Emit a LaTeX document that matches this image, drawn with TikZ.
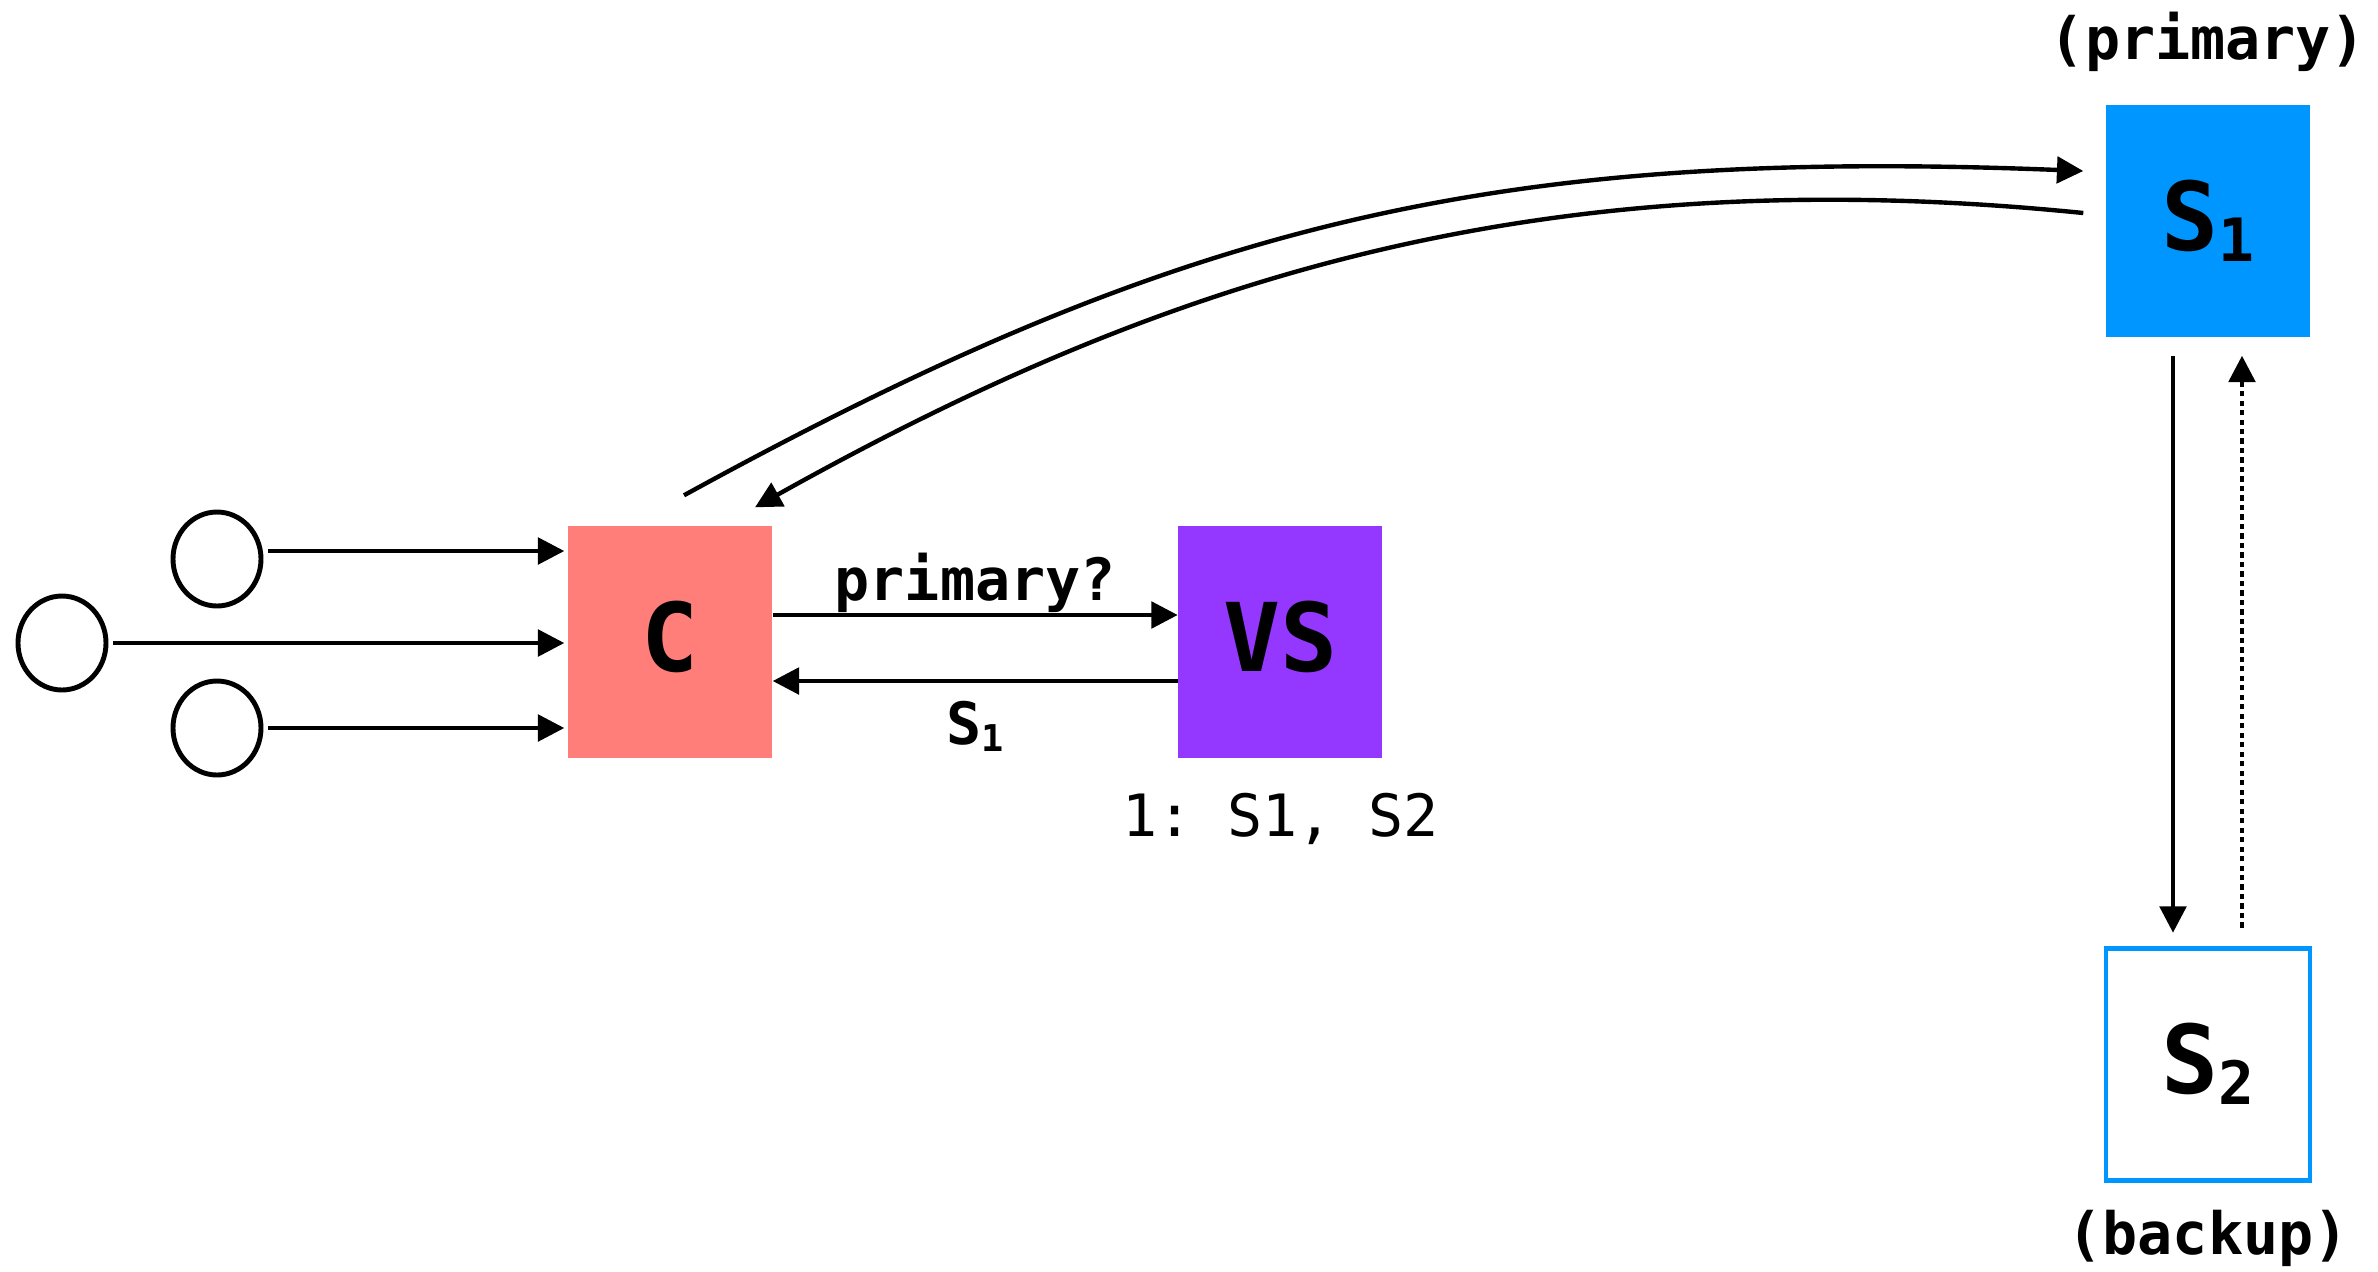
\documentclass[tikz,border=0pt]{standalone}
\usepackage{fontspec}
\setmonofont{DejaVu Sans Mono}
\usetikzlibrary{shapes.geometric, arrows.meta, positioning}

\definecolor{salmon}{HTML}{FF7E79}
\definecolor{grape}{HTML}{9437FF}
\definecolor{aqua}{HTML}{0096FF}
\newcommand{\subidx}[2]{\raisebox{-0.12em}{\fontsize{#1}{#1}\selectfont #2}}

\begin{document}
\begin{tikzpicture}[
    x=0.1mm, y=-0.1mm,
    box/.style={rectangle, inner sep=0pt, minimum width=20.4mm, minimum height=23.2mm, text depth=3.4pt, font=\ttfamily\bfseries\fontsize{27}{27}\selectfont},
    client/.style={ellipse, draw, line width=1.4pt, inner sep=0pt, minimum width=8.8mm, minimum height=9.4mm},
    arrow/.style={-{Triangle[length=7.5pt, width=7.5pt]}, line width=1.25pt},
    lbl/.style={inner sep=0pt, font=\ttfamily\bfseries\fontsize{16.6}{16.6}\selectfont}
]
    \useasboundingbox (0,0) rectangle (2378,1271);

    % clients
    \node[client] (k1) at (217,559) {};
    \node[client] (k2) at (62,643) {};
    \node[client] (k3) at (217,728) {};

    % coordinator, view service, servers
    \node[box, fill=salmon] (c) at (670,642) {C};
    \node[box, fill=grape, right=40.5mm of c] (vs) {VS};
    \node[box, fill=aqua] (s1) at (2208,221) {S\subidx{17pt}{1}};
    \node[box, draw=aqua, line width=1.4pt, below=60.8mm of s1] (s2) {S\subidx{17pt}{2}};

    \node[lbl, above=9pt of s1] (prim) {(primary)};
    \node[lbl, below=7.5pt of s2] (bak) {(backup)};
    \node[lbl, font=\ttfamily\fontsize{16.6}{16.6}\selectfont, below=9.5pt of vs] (view) {1: S1, S2};

    \draw[arrow] ([shift={(5,-8)}]k1.east) -- ([shift={(-3,-91)}]c.west);
    \draw[arrow] ([shift={(5,0)}]k2.east) -- ([shift={(-3,1)}]c.west);
    \draw[arrow] ([shift={(5,0)}]k3.east) -- ([shift={(-3,86)}]c.west);

    \draw[arrow] ([shift={(0,-27)}]c.east) -- ([shift={(0,-27)}]vs.west)
        node[midway, above=0pt, lbl] {primary?};
    \draw[arrow] ([shift={(0,39)}]vs.west) -- ([shift={(0,39)}]c.east)
        node[midway, below=5pt, lbl] {S\subidx{10.5pt}{1}};

    \draw[arrow] ([shift={(14,-30)}]c.north) .. controls (1175,226) and (1485,147) .. ([shift={(-22,-50)}]s1.west);
    \draw[arrow] ([shift={(-22,-8)}]s1.west) .. controls (1538,158) and (1165,278) .. ([shift={(85,-18)}]c.north);

    \draw[arrow] ([shift={(-35,18)}]s1.south) -- ([shift={(-35,-13)}]s2.north);
    \draw[arrow, dash pattern=on 1.5pt off 1.2pt] ([shift={(34,-18)}]s2.north) -- ([shift={(34,18)}]s1.south);
\end{tikzpicture}
\end{document}
